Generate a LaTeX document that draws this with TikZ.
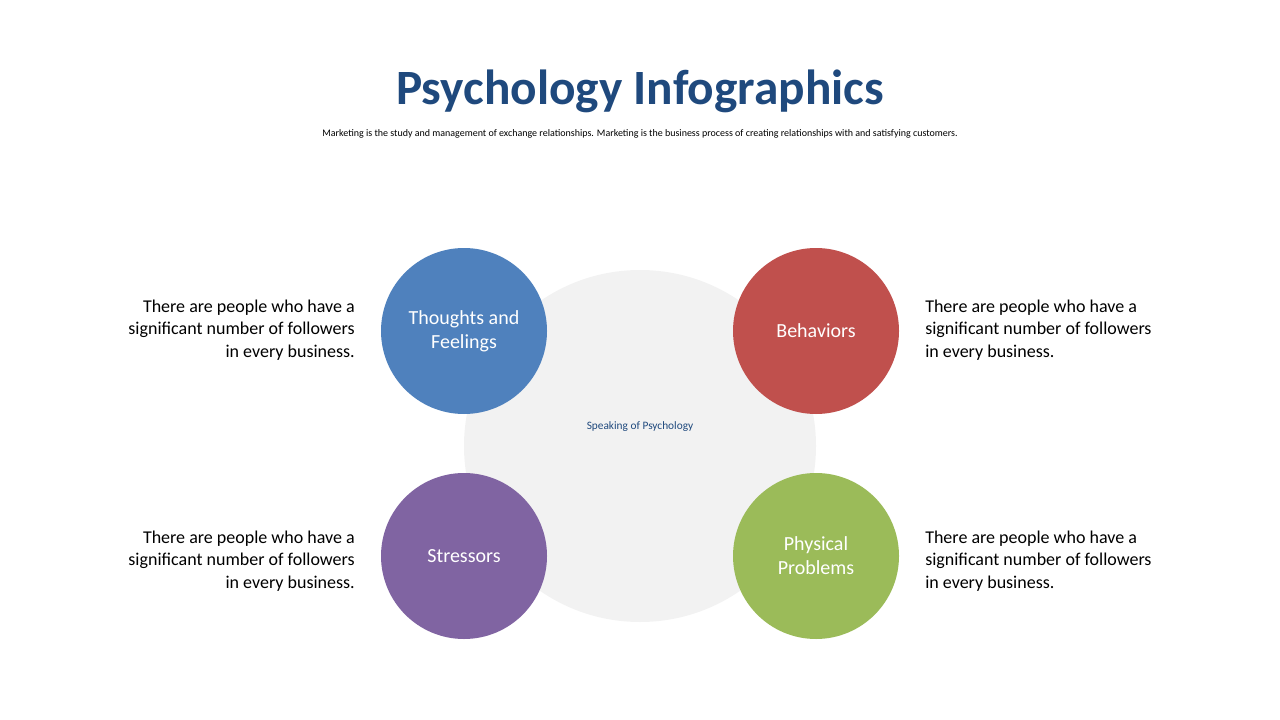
\documentclass[tikz,border=0pt]{standalone}
\usepackage{fontspec}
\setmainfont{Carlito}
\usetikzlibrary{positioning}
\definecolor{titleblue}{RGB}{31,73,125}
\definecolor{cblue}{RGB}{79,129,189}
\definecolor{cred}{RGB}{192,80,77}
\definecolor{cpurple}{RGB}{128,100,162}
\definecolor{cgreen}{RGB}{155,187,89}
\definecolor{cgrey}{RGB}{242,242,242}
\begin{document}
\begin{tikzpicture}[x=0.75pt,y=-0.75pt,
    topic/.style={circle, minimum size=166*0.75pt, inner sep=0pt, text=white, align=center, font=\fontsize{15}{18}\selectfont},
    note/.style={font=\fontsize{13.5}{17}\selectfont, inner sep=0pt}
]
\useasboundingbox (0,0) rectangle (1280,720);
\node[font=\fontsize{37}{40}\selectfont\bfseries, text=titleblue](title) at (640,91){Psychology Infographics};
\node[font=\fontsize{7.5}{9}\selectfont](sub) at (640,134){Marketing is the study and management of exchange relationships. Marketing is the business process of creating relationships with and satisfying customers.};
\node[circle, fill=cgrey, minimum size=352*0.75pt](hub) at (640,446){};
\node[font=\fontsize{8.5}{10}\selectfont, text=titleblue](hublabel) at (640,427){Speaking of Psychology};
\node[topic, fill=cblue](thoughts) at (464,331){Thoughts and\\Feelings};
\node[topic, fill=cred](behaviors) at (816,331){Behaviors};
\node[topic, fill=cpurple](stressors) at (464,556){Stressors};
\node[topic, fill=cgreen](physical) at (816,556){Physical\\Problems};
\node[note, align=right, anchor=east](tnote) at (355,330){There are people who have a\\significant number of followers\\in every business.};
\node[note, align=right, anchor=east](snote) at (355,561){There are people who have a\\significant number of followers\\in every business.};
\node[note, align=left, anchor=west](bnote) at (925,330){There are people who have a\\significant number of followers\\in every business.};
\node[note, align=left, anchor=west](pnote) at (925,561){There are people who have a\\significant number of followers\\in every business.};
\end{tikzpicture}
\end{document}
